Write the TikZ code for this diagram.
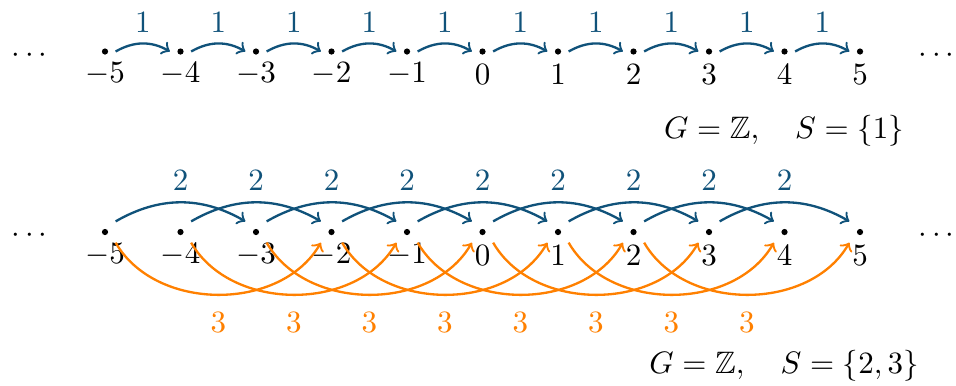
\documentclass[tikz,border=0pt]{standalone}
\usepackage{amssymb}
\definecolor{cblue}{RGB}{16,82,122}
\definecolor{corange}{RGB}{255,128,0}
\begin{document}
\begin{tikzpicture}[x=0.3226pt, y=0.3226pt,
  vtx/.style={rectangle, inner sep=0pt, minimum size=6.45pt,
    path picture={\fill[black] (path picture bounding box.center) circle (1pt);}},
  arr/.style={->, line width=0.75pt},
  blue arr/.style={arr, cblue},
  orange arr/.style={arr, corange}]
\useasboundingbox (0,0) rectangle (956,-385);
\foreach \k in {-5,...,5} {
  \pgfmathsetmacro\xx{105+75.5*(\k+5)}
  \node[vtx] (a\k) at (\xx,-51.5) {};
  \node (la\k) at (\xx,-74) {$\k$};
  \node[vtx] (b\k) at (\xx,-232) {};
  \node (lb\k) at (\xx,-255) {$\k$};
}
\node (l1) at (29.5,-55.3) {$\cdots$};
\node (r1) at (936.5,-55.3) {$\cdots$};
\node (l2) at (29.5,-235.3) {$\cdots$};
\node (r2) at (936.5,-235.3) {$\cdots$};
\foreach \k [evaluate=\k as \n using int(\k+1)] in {-5,...,4}
  \draw[blue arr] (a\k.east) to[bend left=30] node[midway, above] {$1$} (a\n.west);
\foreach \k [evaluate=\k as \n using int(\k+2)] in {-5,...,3}
  \draw[blue arr] (b\k.north east) to[bend left=30] node[midway, above] {$2$} (b\n.north west);
\foreach \k [evaluate=\k as \n using int(\k+3)] in {-5,...,2}
  \draw[orange arr] (b\k.south east) to[bend right=60] node[midway, below=2pt] {$3$} (b\n.south west);
\node[anchor=base] (eq1) at (784,-138.3) {$G=\mathbb{Z},\quad S=\{1\}$};
\node[anchor=base] (eq2) at (784,-373.3) {$G=\mathbb{Z},\quad S=\{2,3\}$};
\end{tikzpicture}
\end{document}
